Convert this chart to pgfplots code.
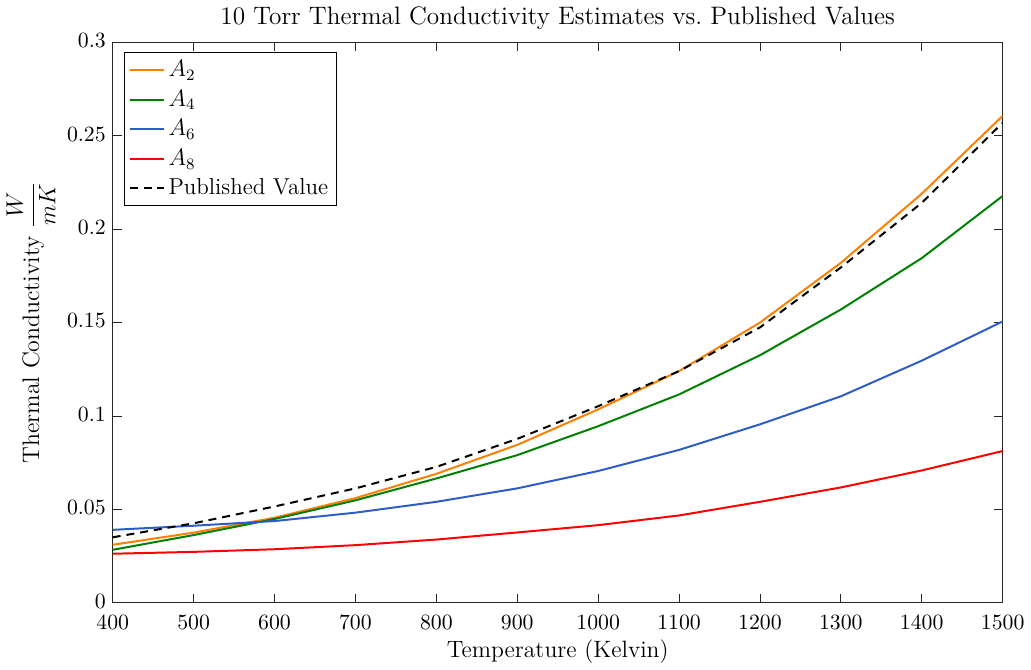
\documentclass[border=0pt]{standalone}
\usepackage{pgfplots}
\pgfplotsset{compat=1.18}
\definecolor{corange}{RGB}{255,128,0}
\definecolor{cgreen}{RGB}{0,128,0}
\definecolor{cblue}{RGB}{46,92,200}
\definecolor{cred}{RGB}{255,0,0}
\definecolor{axgray}{RGB}{38,38,38}
\begin{document}
\begin{tikzpicture}
\begin{axis}[
  scale only axis,
  width=448pt, height=282pt,
  xmin=400, xmax=1500, ymin=0, ymax=0.3,
  xtick={400,500,...,1500},
  ytick={0,0.05,0.1,0.15,0.2,0.25,0.3},
  scaled y ticks=false,
  yticklabel style={/pgf/number format/fixed,/pgf/number format/precision=2, yshift=0.8pt},
  xticklabel style={/pgf/number format/1000 sep={}, yshift=-3pt},
  tick label style={font=\fontsize{11}{13}\selectfont},
  tick align=inside,
  major tick length=4.5pt,
  axis line style={axgray, line width=0.4pt},
  every tick/.style={axgray, line width=0.4pt},
  title={10 Torr Thermal Conductivity Estimates vs.\ Published Values},
  title style={font=\fontsize{12.7}{14}\selectfont, yshift=-3pt},
  xlabel={Temperature (Kelvin)},
  ylabel={Thermal Conductivity $\displaystyle\frac{W}{mK}$},
  xlabel style={font=\fontsize{11.9}{13}\selectfont, yshift=2pt},
  ylabel style={font=\fontsize{12}{14}\selectfont, yshift=-1pt},
  legend cell align=left,
  legend style={font=\fontsize{11.6}{13.5}\selectfont, draw=black, line width=0.4pt,
    inner sep=2pt, row sep=1.2pt, at={(0.013,0.983)}, anchor=north west},
  legend image post style={line width=1pt},
  every axis plot/.append style={line width=1pt},
]
\addplot[corange] coordinates {
(400,0.0310) (500,0.0375) (600,0.0455) (700,0.0560) (800,0.0690) (900,0.0845)
(1000,0.1035) (1100,0.1240) (1200,0.1500) (1300,0.1820) (1400,0.2190) (1500,0.2607)};
\addlegendentry{$A_2$}
\addplot[cgreen] coordinates {
(400,0.0283) (500,0.0362) (600,0.0448) (700,0.0548) (800,0.0665) (900,0.0790)
(1000,0.0945) (1100,0.1115) (1200,0.1325) (1300,0.1570) (1400,0.1845) (1500,0.2178)};
\addlegendentry{$A_4$}
\addplot[cblue] coordinates {
(400,0.0390) (500,0.0412) (600,0.0437) (700,0.0482) (800,0.0540) (900,0.0612)
(1000,0.0705) (1100,0.0818) (1200,0.0955) (1300,0.1105) (1400,0.1296) (1500,0.1506)};
\addlegendentry{$A_6$}
\addplot[cred] coordinates {
(400,0.0262) (500,0.0272) (600,0.0286) (700,0.0308) (800,0.0338) (900,0.0376)
(1000,0.0415) (1100,0.0467) (1200,0.0540) (1300,0.0617) (1400,0.0708) (1500,0.0812)};
\addlegendentry{$A_8$}
\addplot[black, dash pattern=on 4pt off 3pt] coordinates {
(400,0.0350) (500,0.0425) (600,0.0515) (700,0.0612) (800,0.0727) (900,0.0877)
(1000,0.1052) (1100,0.1240) (1200,0.1474) (1300,0.1795) (1400,0.2141) (1500,0.2570)};
\addlegendentry{Published Value}
\end{axis}
\end{tikzpicture}
\end{document}
